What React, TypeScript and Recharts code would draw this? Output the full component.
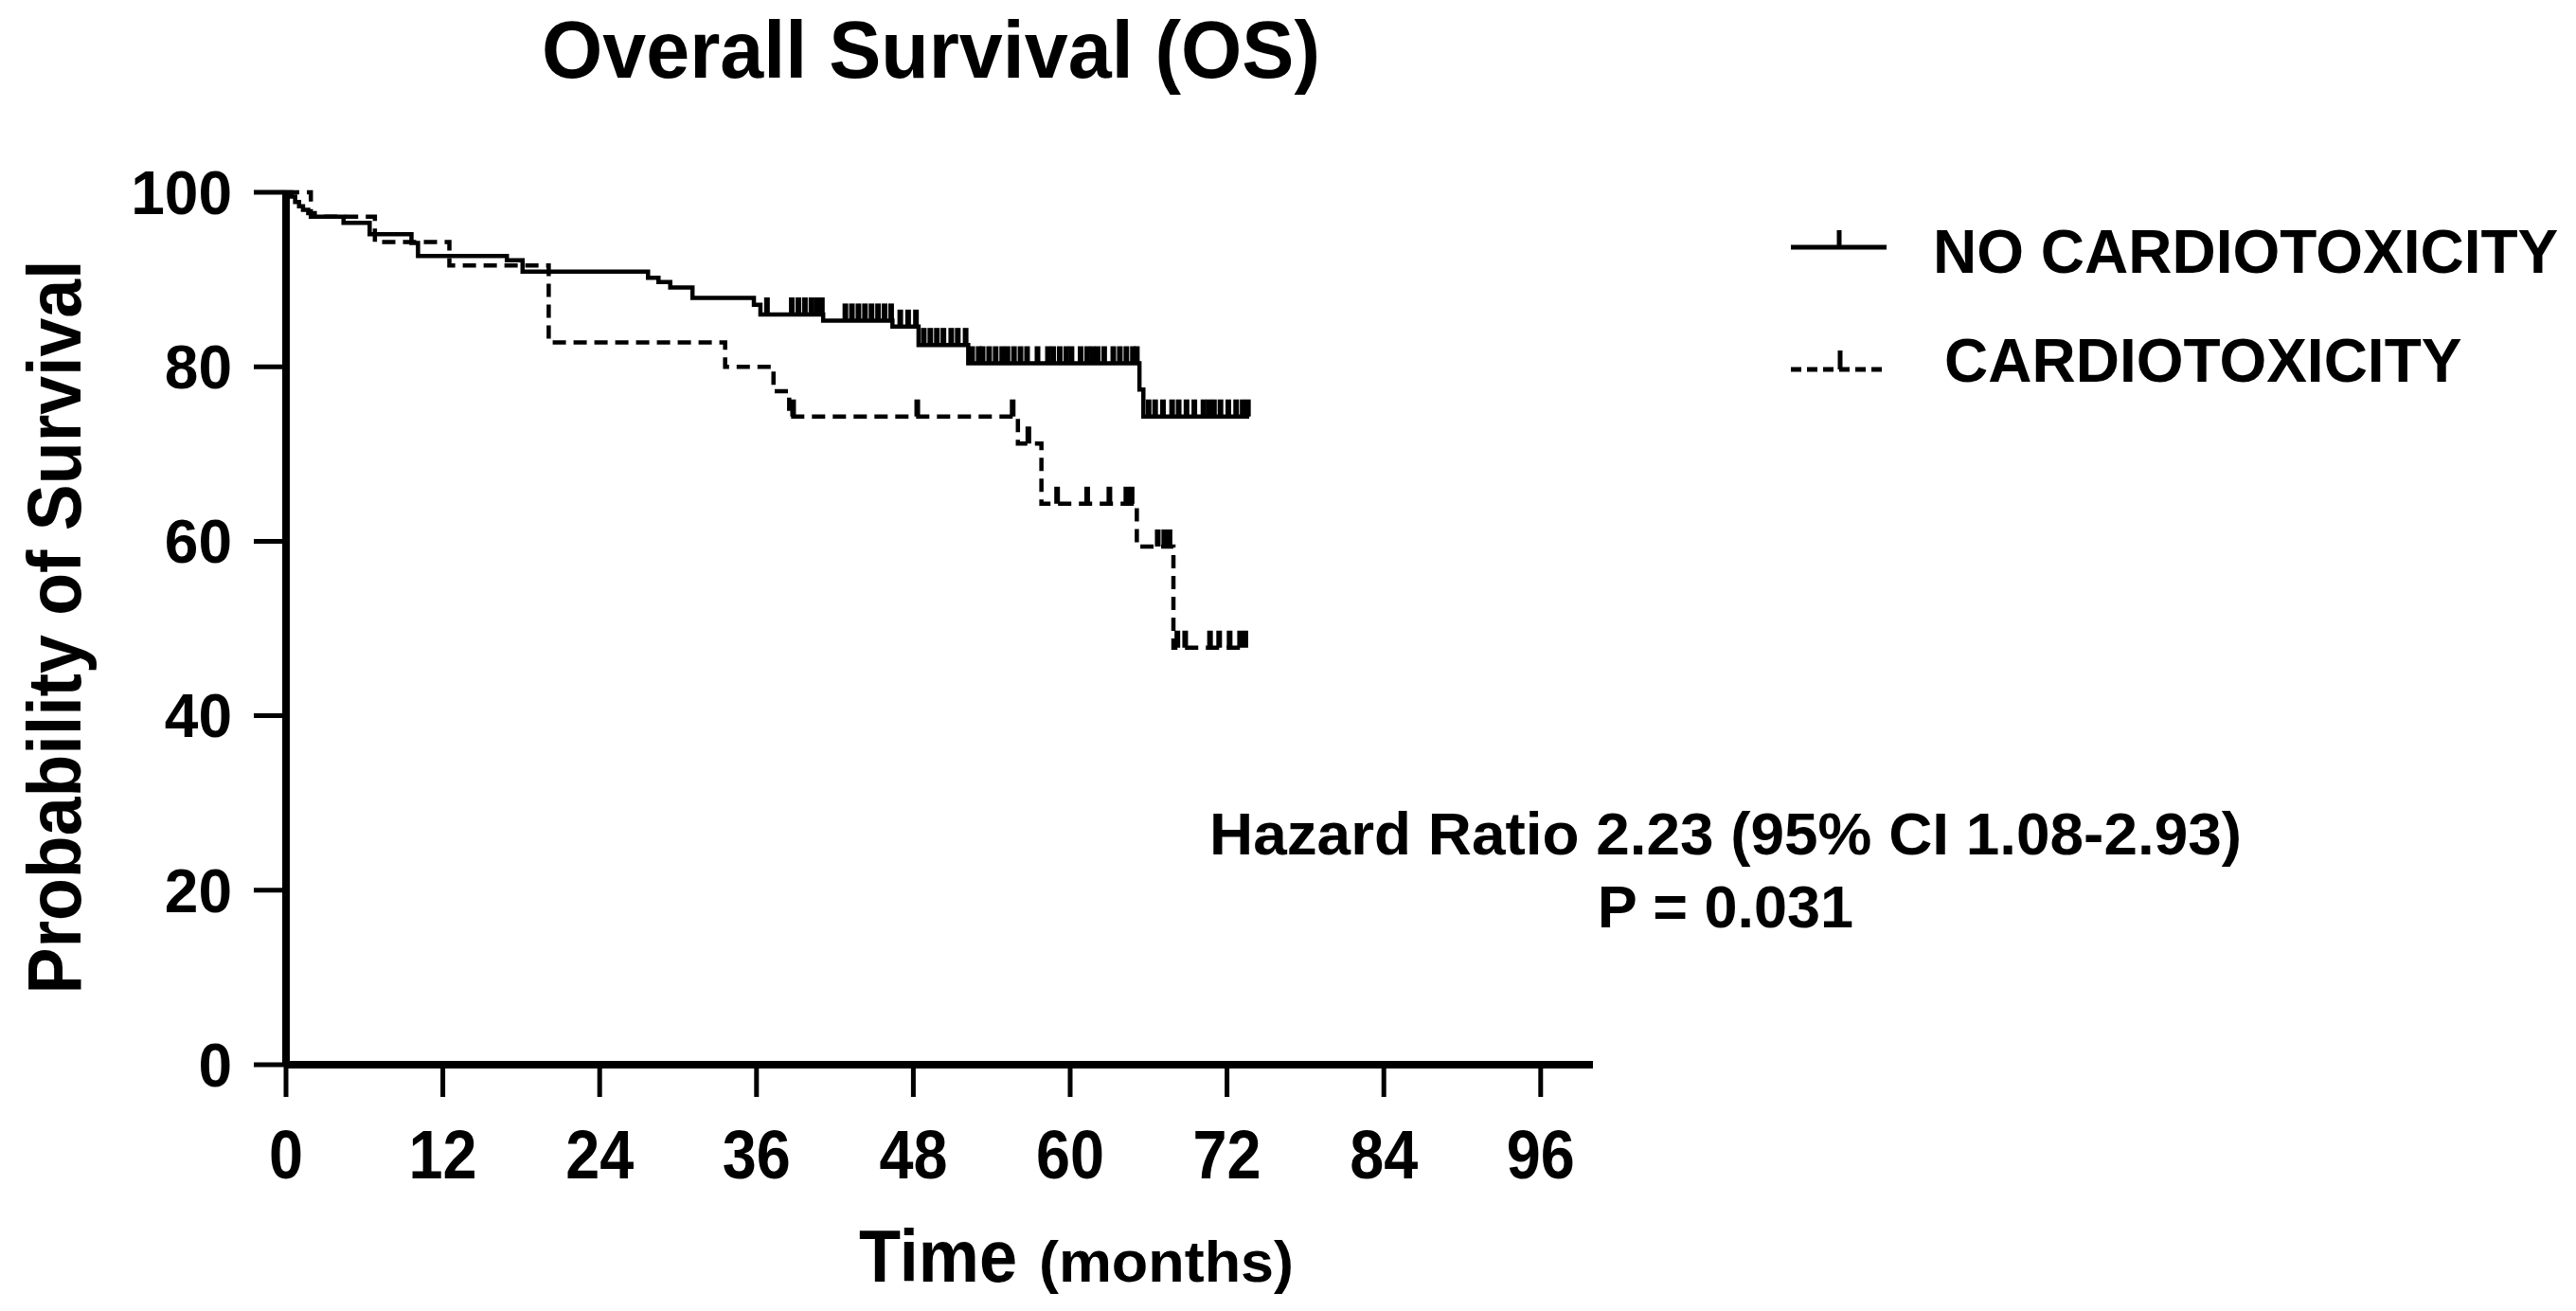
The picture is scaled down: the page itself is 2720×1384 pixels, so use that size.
import React from 'react';
import { ComposedChart, Line, Scatter, XAxis, YAxis } from 'recharts';

// ---- Data (months, % survival) ----
const noCardioSteps: [number, number][] = [
  [0, 100], [0.4, 99.5], [0.7, 98.9], [1.0, 98.4], [1.3, 98.0], [1.7, 97.6], [2.2, 97.2],
  [4.4, 96.5], [6.4, 95.2], [9.6, 94.2], [10.1, 92.7], [16.9, 92.2], [18.1, 90.9],
  [27.7, 90.2], [28.5, 89.7], [29.4, 89.1], [31.1, 87.9], [35.8, 87.1], [36.3, 86.0],
  [41.1, 85.3], [46.4, 84.6], [48.4, 82.5], [52.2, 80.4], [65.3, 77.4], [65.6, 74.3],
  [73.7, 74.3],
];

const cardioSteps: [number, number][] = [
  [0, 100], [1.9, 97.2], [6.8, 94.3], [12.5, 91.6], [20.1, 82.8], [33.6, 80.0],
  [37.3, 77.2], [38.5, 74.3], [56.0, 71.2], [57.8, 64.3], [65.1, 59.4], [67.9, 47.8],
  [73.5, 47.8],
];

const noCardioCensored: [number, number][] = [
  [36.8, 86.0], [38.7, 86.0], [39.2, 86.0], [39.7, 86.0], [40.2, 86.0], [40.6, 86.0], [41.0, 86.0],
  [42.8, 85.3], [43.3, 85.3], [43.8, 85.3], [44.3, 85.3], [44.8, 85.3], [45.3, 85.3], [45.8, 85.3], [46.3, 85.3],
  [47.0, 84.6], [47.6, 84.6], [48.2, 84.6],
  [48.8, 82.5], [49.3, 82.5], [49.8, 82.5], [50.3, 82.5], [50.9, 82.5], [51.4, 82.5], [52.0, 82.5],
  [52.5, 80.4], [53.0, 80.4], [53.3, 80.4], [53.8, 80.4], [54.3, 80.4], [54.8, 80.4], [55.2, 80.4],
  [55.7, 80.4], [56.2, 80.4], [56.7, 80.4], [57.5, 80.4], [58.3, 80.4], [58.7, 80.4], [59.2, 80.4],
  [59.7, 80.4], [60.1, 80.4], [60.8, 80.4], [61.3, 80.4], [61.7, 80.4], [62.1, 80.4], [62.6, 80.4],
  [63.3, 80.4], [63.8, 80.4], [64.3, 80.4], [64.8, 80.4], [65.1, 80.4],
  [66.0, 74.3], [66.5, 74.3], [67.1, 74.3], [67.8, 74.3], [68.3, 74.3], [68.9, 74.3], [69.5, 74.3],
  [70.2, 74.3], [70.6, 74.3], [71.0, 74.3], [71.5, 74.3], [72.1, 74.3], [72.7, 74.3], [73.2, 74.3],
  [73.6, 74.3],
];

const cardioCensored: [number, number][] = [
  [38.8, 74.3], [48.3, 74.3], [55.6, 74.3], [56.8, 71.2],
  [59.0, 64.3], [61.3, 64.3], [63.0, 64.3], [64.3, 64.3], [64.7, 64.3],
  [66.7, 59.4], [67.2, 59.4], [67.6, 59.4],
  [68.2, 47.8], [68.8, 47.8], [70.7, 47.8], [71.4, 47.8], [72.2, 47.8], [73.0, 47.8], [73.4, 47.8],
];

const xTicks = [0, 12, 24, 36, 48, 60, 72, 84, 96];
const yTicks = [0, 20, 40, 60, 80, 100];

const seriesNames = ['NO CARDIOTOXICITY', 'CARDIOTOXICITY'];
const titleText = 'Overall Survival (OS)';
const yLabel = 'Probability of Survival';
const xLabelMain = 'Time';
const xLabelUnit = '(months)';
const hrText = 'Hazard Ratio 2.23 (95% CI 1.08-2.93)';
const pText = 'P = 0.031';

const toRows = (arr: [number, number][]) => arr.map(([m, v]) => ({ m, v }));

const FONT = '"Liberation Sans", Arial, Helvetica, sans-serif';

const W = 2704;
const H = 1368;

const CensorTick = (props: any) => {
  const { cx, cy } = props;
  if (cx == null || cy == null) return null;
  return <line x1={cx} y1={cy} x2={cx} y2={cy - 18} stroke="#000" strokeWidth={6} />;
};

const XTick = (props: any) => {
  const { x, y, payload } = props;
  const label = String(payload.value);
  return (
    <text
      x={x}
      y={y}
      dy="0.72em"
      textAnchor="middle"
      fill="#000"
      fontSize={72}
      fontWeight={700}
      fontFamily={FONT}
      textLength={label.length * 36}
      lengthAdjust="spacingAndGlyphs"
    >
      {label}
    </text>
  );
};

export default function App() {
  return (
    <div style={{ position: 'relative', width: W, height: H, background: '#fff' }}>
      <ComposedChart
        width={W}
        height={H}
        margin={{ top: 195, right: 1030, bottom: 132, left: 94 }}
      >
        <XAxis
          type="number"
          dataKey="m"
          domain={[0, 100]}
          ticks={xTicks}
          interval={0}
          allowDataOverflow
          height={120}
          tickSize={34}
          tickMargin={34}
          axisLine={{ stroke: '#000', strokeWidth: 8 }}
          tickLine={{ stroke: '#000', strokeWidth: 5 }}
          tick={XTick}
        />
        <YAxis
          type="number"
          dataKey="v"
          domain={[0, 100]}
          ticks={yTicks}
          interval={0}
          width={200}
          tickSize={34}
          tickMargin={23}
          axisLine={{ stroke: '#000', strokeWidth: 8 }}
          tickLine={{ stroke: '#000', strokeWidth: 5 }}
          tick={{ fill: '#000', fontSize: 64, fontWeight: 700, fontFamily: FONT }}
        />
        <Line
          data={toRows(noCardioSteps)}
          dataKey="v"
          type="stepAfter"
          stroke="#000"
          strokeWidth={4.5}
          dot={false}
          activeDot={false}
          isAnimationActive={false}
          name={seriesNames[0]}
        />
        <Line
          data={toRows(cardioSteps)}
          dataKey="v"
          type="stepAfter"
          stroke="#000"
          strokeWidth={4.5}
          strokeDasharray="14 8"
          dot={false}
          activeDot={false}
          isAnimationActive={false}
          name={seriesNames[1]}
        />
        <Scatter
          data={toRows(noCardioCensored)}
          dataKey="v"
          shape={CensorTick}
          isAnimationActive={false}
        />
        <Scatter
          data={toRows(cardioCensored)}
          dataKey="v"
          shape={CensorTick}
          isAnimationActive={false}
        />
      </ComposedChart>
      <svg
        width={2720}
        height={1384}
        style={{ position: 'absolute', left: -8, top: -8, pointerEvents: 'none' }}
        fontFamily={FONT}
        fontWeight={700}
        fill="#000"
      >
        <g transform="translate(8,8)">
          <text x={975} y={74} fontSize={86} textAnchor="middle" textLength={822} lengthAdjust="spacingAndGlyphs">
            {titleText}
          </text>
          <text
            transform="translate(77,654) rotate(-90)"
            fontSize={80}
            textAnchor="middle"
            textLength={775}
            lengthAdjust="spacingAndGlyphs"
          >
            {yLabel}
          </text>
          <text x={899} y={1345} fontSize={78} textLength={167} lengthAdjust="spacingAndGlyphs">
            {xLabelMain}
          </text>
          <text x={1089} y={1345} fontSize={61} textLength={269} lengthAdjust="spacingAndGlyphs">
            {xLabelUnit}
          </text>

          {/* legend */}
          <line x1={1883} y1={253} x2={1984} y2={253} stroke="#000" strokeWidth={5} />
          <line x1={1934} y1={253} x2={1934} y2={235} stroke="#000" strokeWidth={5} />
          <text x={2033} y={280} fontSize={64}>{seriesNames[0]}</text>

          <line x1={1883} y1={382} x2={1984} y2={382} stroke="#000" strokeWidth={5} strokeDasharray="11 6" />
          <line x1={1935} y1={382} x2={1935} y2={362} stroke="#000" strokeWidth={5} />
          <text x={2045} y={395} fontSize={64}>{seriesNames[1]}</text>

          {/* annotation */}
          <text x={1814} y={894} fontSize={63} textAnchor="middle" textLength={1090} lengthAdjust="spacingAndGlyphs">
            {hrText}
          </text>
          <text x={1814} y={971} fontSize={63} textAnchor="middle">
            {pText}
          </text>
        </g>
      </svg>
    </div>
  );
}
